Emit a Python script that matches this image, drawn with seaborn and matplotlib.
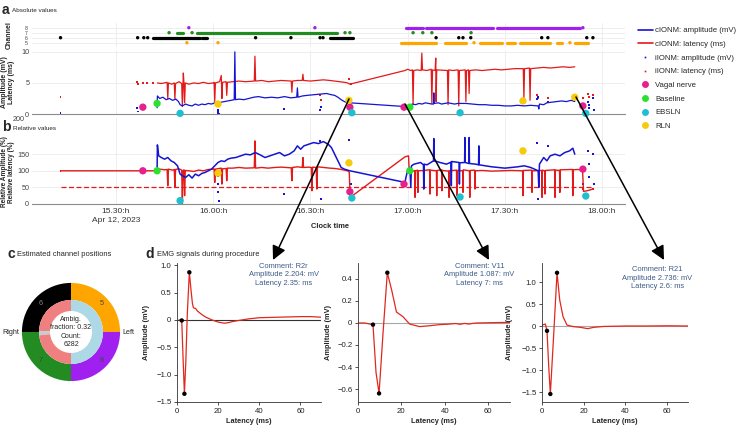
import numpy as np
import pandas as pd
import seaborn as sns
import matplotlib.pyplot as plt
from matplotlib.lines import Line2D
from matplotlib.patches import FancyArrowPatch
import matplotlib.dates as mdates

W, H = 737, 425
BASE = pd.Timestamp('2023-04-12 15:00')
nan = np.nan
BLUE = '#1414d2'
RED = '#e31a1a'

# ---- panel a: absolute cIONM traces (minutes after 15:00) ----
amp_abs_t = [42.7, 42.8, 43.5, 44.5, 45.5, 46.5, 47.5, 48.5, 49.3, 49.8,
             50.5, 51.5, 52.5, 53.5, 54.5, 55.5, 56.5, 57.5, 58.5, 59.5,
             60.5, 61.5, 62.5, 63.5, 64.5, 65.5, 66.5, 66.7, 66.9, 68.0,
             69.5, 71.0, 72.5, 74.0, 76.0, 78.0, 80.0, 82.0, 84.0, 85.8,
             86.0, 86.2, 87.5, 89.0, 91.0, 93.0, 95.0, 96.5, 97.5, 98.5,
             99.5, 100.5, 101.5, 102.2,
             119.2, 119.8, 120.7, 121.5, 122.5, 123.5, 124.5, 125.5, 126.5, 127.5,
             128.0, 128.1, 128.2, 129.5, 130.5, 131.5, 132.5, 133.5, 134.5, 135.5,
             138.0, 140.0, 142.0, 144.0, 146.0, 148.0, 150.0, 152.0, 154.0, 156.0,
             158.0, 160.3, 160.5, 160.7, 162.0, 163.0, 164.5, 166.0, 167.5, 169.0,
             170.5, 171.6]
amp_abs = [1.0, 2.9, 2.5, 2.7, 2.3, 2.5, 2.2, 2.4, 2.0, 1.5,
           1.3, 1.6, 1.4, 1.3, 1.6, 1.4, 1.6, 1.5, 1.7, 1.6,
           1.8, 1.7, 1.9, 2.0, 2.1, 2.2, 2.3, 10.0, 2.3, 2.4,
           2.3, 2.5, 2.7, 2.8, 2.6, 2.7, 2.6, 2.8, 2.6, 2.7,
           4.2, 2.7, 2.9, 3.0, 3.1, 3.2, 3.3, 3.1, 3.0, 2.7,
           2.3, 2.0, 1.8, 1.8,
           1.2, 1.3, 1.4, 1.6, 1.5, 1.7, 1.6, 1.8, 1.7, 1.6,
           1.6, 3.4, 1.7, 1.8, 1.6, 1.7, 1.8, 1.7, 1.6, 1.7,
           1.7, 1.6, 1.5, 1.5, 1.4, 1.4, 1.3, 1.3, 1.4, 1.3,
           1.4, 1.3, 0.8, 1.6, 1.5, 1.8, 1.9, 2.0, 2.1, 2.0,
           2.2, 2.0]

lat_abs_t = [42.8, 44.0, 45.8, 46.0, 46.2, 47.2, 48.0, 48.2, 48.4, 49.5,
             50.3, 50.5, 50.7, 50.8, 51.0, 51.2, 51.4, 52.5, 54.0, 55.5,
             57.0, 58.5, 60.0, 60.3, 60.5, 60.7, 62.0, 62.5, 62.7, 62.9,
             64.0, 64.2, 64.4, 66.0, 68.0, 70.0, 72.7, 72.9, 73.1, 75.0,
             77.0, 79.0, 81.0, 84.1, 84.3, 84.5, 86.0, 87.5, 87.7, 87.9,
             90.0, 92.0, 94.0, 96.0, 97.5, 99.0, 100.5, 101.5, 102.2,
             119.2, 120.0, 121.0, 121.5, 121.7, 121.9, 123.0, 124.2, 124.4, 124.6,
             126.0, 127.3, 127.5, 127.7, 128.5, 128.7, 128.8, 129.0, 132.3, 132.5,
             132.7, 134.0, 135.6, 135.8, 136.0, 137.8, 138.0, 138.2, 138.8, 139.0,
             139.2, 141.0, 143.0, 145.0, 147.0, 149.0, 151.0, 153.0, 155.7, 155.9,
             156.1, 157.6, 157.8, 158.0, 160.0, 162.0, 164.0, 166.0, 168.0, 170.0,
             171.6]
lat_abs = [5.0, 4.9, 5.1, 2.5, 5.0, 4.8, 5.0, 2.4, 4.9, 5.2,
           4.9, 1.2, 5.0, 6.6, 4.9, 1.8, 5.0, 4.8, 5.0, 4.9,
           5.1, 4.9, 5.0, 5.1, 2.0, 5.0, 5.2, 6.2, 2.5, 5.1,
           5.2, 3.0, 5.1, 5.2, 5.3, 5.2, 5.3, 9.3, 5.3, 5.4,
           5.2, 5.3, 5.4, 5.3, 3.5, 5.3, 5.4, 5.4, 6.4, 5.4,
           5.3, 5.4, 5.5, 5.4, 5.3, 5.2, 5.1, 5.0, 4.8,
           7.0, 7.2, 7.0, 7.1, 1.5, 7.0, 7.1, 7.0, 9.8, 7.1,
           7.0, 7.2, 1.7, 7.1, 7.0, 9.0, 2.0, 7.1, 7.0, 1.5,
           7.1, 7.0, 7.1, 1.3, 7.0, 7.1, 2.0, 7.0, 7.1, 3.3,
           7.0, 7.1, 7.0, 7.1, 7.2, 7.1, 7.2, 7.3, 7.3, 2.5,
           7.3, 7.4, 2.2, 7.3, 7.4, 7.5, 7.4, 7.5, 7.6, 7.5,
           7.6]

# ---- panel b: relative traces (%) ----
amp_rel_t = [42.7, 42.8, 43.2, 44.0, 45.0, 46.0, 47.0, 48.0, 49.0, 49.8,
             50.5, 51.5, 52.5, 53.5, 54.5, 55.5, 56.5, 57.5, 58.5, 59.5,
             60.5, 61.5, 62.5, 63.5, 64.5, 65.5, 67.0, 68.5, 70.0, 71.5,
             73.0, 74.5, 76.0, 77.5, 79.0, 80.5, 82.0, 83.5, 85.0, 86.0,
             87.0, 88.0, 89.5, 91.0, 92.5, 94.0, 95.5, 96.5, 97.5, 98.5,
             99.5, 100.5, 101.5, 102.2,
             119.2, 119.5, 120.0, 120.7, 121.0, 121.2, 122.0, 124.0, 124.9, 125.0,
             125.1, 126.0, 128.0, 128.1, 128.2, 130.0, 132.0, 133.4, 133.5, 133.6,
             135.9, 136.0, 136.1, 137.6, 137.7, 137.8, 138.9, 139.0, 139.1, 141.0,
             141.9, 142.0, 142.1, 144.0, 146.0, 148.0, 150.0, 152.0, 154.0, 156.0,
             158.0, 160.3, 160.5, 160.7, 162.0, 163.0, 164.0, 165.5, 167.0, 168.5,
             170.0, 171.0, 171.6]
amp_rel = [100, 178, 145, 140, 135, 140, 130, 125, 115, 90,
           85, 80, 88, 78, 90, 85, 92, 95, 100, 105,
           115, 125, 130, 128, 135, 138, 140, 145, 150, 148,
           155, 148, 140, 145, 150, 155, 145, 150, 160, 175,
           165, 175, 180, 185, 182, 188, 180, 170, 150, 130,
           110, 105, 102, 100,
           65, 80, 100, 110, 50, 115, 120, 125, 118, 45,
           120, 118, 130, 197, 130, 125, 120, 126, 55, 128,
           125, 60, 124, 125, 200, 125, 122, 200, 122, 120,
           118, 175, 118, 115, 112, 110, 108, 110, 112, 115,
           110, 100, 50, 120, 140, 130, 145, 150, 145, 155,
           160, 168, 150]

lat_rel_t = [12.9, 42.7, 43.5, 45.0, 45.8, 46.0, 46.2, 47.5, 48.0, 48.2,
             48.4, 49.5, 50.3, 50.5, 50.7, 51.0, 51.2, 51.4, 52.5, 54.0,
             55.5, 57.0, 58.5, 60.0, 60.3, 60.5, 60.7, 62.0, 62.5, 62.7,
             62.9, 64.0, 64.2, 64.4, 66.0, 68.0, 70.0, 72.7, 72.9, 73.1,
             75.0, 77.0, 79.0, 81.0, 84.1, 84.3, 84.5, 86.0, 87.5, 87.7,
             87.9, 89.5, 90.3, 90.5, 90.7, 91.8, 92.0, 92.2, 94.0, 96.0,
             97.5, 99.0, 100.5, 101.5, 102.0, 102.3,
             119.2, 120.3, 120.5, 121.0, 122.0, 122.2, 122.3, 122.5, 123.1, 123.2,
             123.3, 125.0, 126.8, 126.9, 127.0, 128.9, 129.0, 129.1, 130.5, 130.6,
             130.7, 132.7, 132.8, 132.9, 135.1, 135.2, 135.3, 137.0, 137.1, 137.2,
             139.1, 139.2, 139.3, 140.7, 140.8, 140.9, 143.0, 146.0, 149.0, 152.0,
             155.5, 155.6, 155.7, 158.3, 158.4, 158.5, 161.4, 161.5, 161.6, 162.3,
             162.4, 162.5, 165.4, 165.5, 165.6, 166.9, 167.0, 167.1, 170.9, 171.0,
             171.1, 172.5, 174.0, 174.3, 175.5, 177.2]
lat_rel = [100, 100, 105, 103, 104, 55, 105, 102, 104, 50,
           104, 106, 102, 2, 100, 103, 25, 101, 100, 98,
           102, 100, 104, 105, 106, 65, 105, 107, 108, 60,
           106, 107, 70, 108, 108, 110, 108, 109, 190, 108,
           110, 108, 110, 111, 109, 70, 110, 112, 110, 140,
           110, 111, 110, 40, 111, 110, 45, 112, 110, 108,
           107, 105, 102, 100, 96, 20,
           142, 145, 100, 102, 99, 101, 20, 100, 102, 35,
           100, 101, 103, 30, 102, 100, 25, 101, 103, 40,
           101, 99, 20, 100, 102, 25, 101, 100, 35, 103,
           100, 20, 101, 102, 45, 100, 101, 99, 100, 101,
           100, 25, 101, 102, 35, 100, 101, 20, 102, 100,
           30, 101, 103, 20, 102, 101, 35, 103, 104, 25,
           103, 104, 102, 38, 40, 45]
threshold_pct = 50

# ---- iIONM single measurements ----
iionm_t = [12.9, 36.5, 36.7, 38.3, 39.6, 41.4, 61.4, 61.5, 61.6, 61.7, 82.0, 93.0,
           93.2, 102.0, 102.4, 160.0, 160.3, 163.3, 174.0, 175.7, 175.9, 176.1, 177.2, 177.4]
iionm_amp = [0.1, 1.0, 0.4, nan, nan, nan, 0.6, 0.4, 0.2, 0.05, 0.8, 0.6,
             1.2, 2.2, 1.0, 2.4, 2.8, 2.0, 1.2, 2.0, 1.5, 1.0, 2.5, 0.6]
iionm_lat = [2.7, 5.1, 4.9, 5.0, 5.0, 5.0, nan, nan, nan, nan, nan, 3.0,
             2.2, 5.6, 4.8, 3.0, 2.5, 2.6, 2.5, 3.2, 2.8, nan, 3.0, nan]
iionm_amp_rel = [nan, nan, nan, nan, nan, nan, 85, 60, 35, 10, 30, 190,
                 15, 194, 60, 185, 15, 175, 60, 160, 120, 80, 150, 60]
iionm_lat_rel = [100, nan, nan, nan, nan, nan, nan, nan, nan, nan, nan, nan,
                 nan, nan, nan, nan, nan, nan, 45, nan, nan, nan, 45, nan]

# ---- stimulation events ----
event_t = [38.3, 102.2, 118.9, 174.1, 42.7, 120.7, 49.8, 102.8, 136.2, 175.0, 61.5, 101.9, 155.6, 171.6]
event_kind = ['Vagal nerve', 'Vagal nerve', 'Vagal nerve', 'Vagal nerve', 'Baseline', 'Baseline',
              'EBSLN', 'EBSLN', 'EBSLN', 'EBSLN', 'RLN', 'RLN', 'RLN', 'RLN']
event_abs = [1.1, 1.1, 1.1, 1.3, 1.7, 1.1, 0.1, 0.2, 0.2, 0.1, 1.6, 2.2, 2.1, 2.7]
event_rel = [100, 37, 60, 105, 100, 100, 10, 18, 21, 24, 93, 124, 160, nan]
event_colors = {'Vagal nerve': '#e6208c', 'Baseline': '#2ee02e', 'EBSLN': '#1fbfcf', 'RLN': '#f6cb0a'}

# ---- channel strip ----
ch_run_start = [41.4, 56.5, 96.0, 55.0, 48.8, 119.5, 125.7, 147.6, 118.0, 131.5, 142.3, 150.7, 154.7, 166.1, 171.6]
ch_run_end = [55.9, 58.1, 103.1, 98.2, 50.7, 124.7, 146.3, 173.2, 128.8, 138.0, 149.1, 153.1, 163.9, 167.6, 175.7]
ch_run_chan = [6, 6, 6, 7, 7, 8, 8, 8, 5, 5, 5, 5, 5, 5, 5]
ch_dot_t = [12.9, 36.7, 38.6, 39.8, 73.1, 84.0, 93.0, 93.9, 128.8, 135.8, 137.1, 139.5, 161.4, 163.3, 175.3, 177.2,
            46.4, 53.5, 100.7, 102.2, 121.7, 124.7, 127.5, 139.6,
            52.5, 91.4, 174.1,
            51.9, 61.5, 140.5, 170.1]
ch_dot_chan = [6, 6, 6, 6, 6, 6, 6, 6, 6, 6, 6, 6, 6, 6, 6, 6,
               7, 7, 7, 7, 7, 7, 7, 7,
               8, 8, 8,
               5, 5, 5, 5]
chan_colors = {5: '#ffa500', 6: '#000000', 7: '#228b22', 8: '#a020f0'}

tick_min = [30, 60, 90, 120, 150, 180]
tick_labels = ['15.30:h\nApr 12, 2023', '16.00:h', '16.30:h', '17.00:h', '17.30:h', '18.00:h']

# ---- panel c: donut ----
outer_labels = ['5', '8', '7', '6']
outer_sizes = [1, 1, 1, 1]
inner_sizes = [88, 8, 84, 180]
inner_colors = ['#f08080', '#c5cdd2', '#f08080', '#add8e6']

# ---- panel d: EMG waveforms ----
emg1_lat = [1.0, 2.3, 3.0, 3.6, 4.3, 5.0, 6.0, 6.8, 7.5, 8.0, 9.0, 10, 12, 14, 17, 20, 23, 25, 27, 30,
            35, 40, 45, 50, 55, 60, 65, 70]
emg1_amp = [0.0, -0.01, -0.75, -1.35, -0.75, 0.1, 0.87, 0.55, 0.3, 0.22, 0.21, 0.16, 0.1, 0.05, 0.0,
            -0.04, -0.06, -0.05, -0.03, -0.01, 0.02, 0.04, 0.045, 0.05, 0.055, 0.06, 0.06, 0.05]
emg1_pk_lat = [2.3, 3.6, 6.0]
emg1_pk_amp = [-0.01, -1.35, 0.87]
emg2_lat = [0.5, 3, 6.9, 8.3, 9.7, 11.5, 13.5, 15.5, 17.7, 20.7, 23.8, 28.4, 33, 37.6, 42, 45, 47, 49,
            51, 53, 55, 60, 65, 70]
emg2_amp = [0.0, 0.0, -0.015, -0.45, -0.64, -0.1, 0.457, 0.3, 0.10, 0.057, -0.01, -0.033, -0.025,
            -0.015, -0.01, -0.005, -0.012, -0.004, -0.01, -0.003, 0.0, 0.002, 0.004, 0.005]
emg2_pk_lat = [6.9, 9.7, 13.5]
emg2_pk_amp = [-0.015, -0.64, 0.457]
emg3_lat = [0, 1.6, 2.4, 3.2, 4.0, 5.6, 7.2, 8.5, 10.1, 12.0, 15.2, 18.4, 21.9, 24.8, 29.6, 35, 40, 50, 60, 70]
emg3_amp = [0.02, 0.045, -0.11, -0.9, -1.545, -0.2, 1.21, 0.59, 0.21, 0.02, -0.015, -0.03, -0.06, -0.03,
            -0.01, -0.005, 0.0, 0.0, 0.005, 0.0]
emg3_pk_lat = [2.4, 4.0, 7.2]
emg3_pk_amp = [-0.11, -1.545, 1.21]
emg_notes = ['Comment: R2r\nAmplitude 2.204: mV\nLatency 2.35: ms',
             'Comment: V11\nAmplitude 1.087: mV\nLatency 7: ms',
             'Comment: R21\nAmplitude 2.736: mV\nLatency 2.6: ms']


def to_time(mins):
    return pd.Series(BASE + pd.to_timedelta(np.asarray(mins, dtype=float), unit='min'))


def to_num(mins):
    return mdates.date2num(to_time(mins).dt.to_pydatetime())


sns.set_theme(style='white')
plt.rcParams['font.family'] = ['Liberation Sans', 'DejaVu Sans']

fig = plt.figure(figsize=(W / 100, H / 100), dpi=100)


def box(l, t, r, b):
    return fig.add_axes([l / W, 1 - b / H, (r - l) / W, (b - t) / H])


def timeline_style(ax):
    ax.set_xlim(to_time([4.1, 187.1]))
    ax.set_xticks(to_time(tick_min))
    ax.grid(True, color='#ebebeb', lw=0.6)
    ax.set_axisbelow(True)
    for s in ['top', 'right', 'left']:
        ax.spines[s].set_visible(False)
    ax.spines['bottom'].set_color('#8c8c8c')
    ax.spines['bottom'].set_linewidth(0.8)
    ax.tick_params(axis='both', length=0, pad=2, labelsize=5.2, labelcolor='#444444')
    ax.set_xlabel('')


# ---- channel strip ----
ax_ch = box(32, 23, 625, 47)
sns.scatterplot(x=to_time(ch_dot_t), y=ch_dot_chan, hue=ch_dot_chan, palette=chan_colors,
                s=6, edgecolor='none', legend=False, ax=ax_ch)
for a, b, c in zip(ch_run_start, ch_run_end, ch_run_chan):
    ax_ch.hlines(c, to_num([a])[0], to_num([b])[0], color=chan_colors[c], lw=2.3, capstyle='round')
timeline_style(ax_ch)
ax_ch.spines['bottom'].set_visible(False)
ax_ch.set_ylim(4.14, 8.94)
ax_ch.set_yticks([5, 6, 7, 8])
ax_ch.tick_params(axis='y', labelsize=3.8, pad=3)
ax_ch.set_xticklabels([])
ax_ch.set_ylabel('Channel', fontsize=5, fontweight='bold')
ax_ch.yaxis.set_label_coords(-0.032, 0.5)

# ---- panel a ----
ax_a = box(32, 50, 625, 114)
sns.lineplot(x=to_time(lat_abs_t), y=lat_abs, color=RED, lw=0.9, estimator=None, sort=False, ax=ax_a)
sns.lineplot(x=to_time(amp_abs_t), y=amp_abs, color=BLUE, lw=0.9, estimator=None, sort=False, ax=ax_a)
sns.scatterplot(x=to_time(iionm_t), y=iionm_lat, color=RED, s=2, marker='s', edgecolor='none', ax=ax_a)
sns.scatterplot(x=to_time(iionm_t), y=iionm_amp, color=BLUE, s=2, marker='s', edgecolor='none', ax=ax_a)
sns.scatterplot(x=to_time(event_t), y=event_abs, hue=event_kind, palette=event_colors, s=28,
                edgecolor='none', legend=False, ax=ax_a, zorder=5, clip_on=False)
timeline_style(ax_a)
ax_a.set_ylim(0, 10.3)
ax_a.set_yticks([0, 5, 10])
ax_a.set_xticklabels([])
ax_a.set_ylabel('Amplitude (mV)\nLatency (ms)', fontsize=5, fontweight='bold', linespacing=1.1)
ax_a.yaxis.set_label_coords(-0.028, 0.5)

# ---- panel b ----
ax_b = box(32, 117, 625, 204)
ax_b.hlines(threshold_pct, to_num([12.9])[0], to_num([177.2])[0], color=RED, lw=0.9, linestyles=(0, (4, 2)))
sns.lineplot(x=to_time(lat_rel_t), y=lat_rel, color=RED, lw=1.0, estimator=None, sort=False, ax=ax_b)
sns.lineplot(x=to_time(amp_rel_t), y=amp_rel, color=BLUE, lw=1.1, estimator=None, sort=False, ax=ax_b)
sns.scatterplot(x=to_time(iionm_t), y=iionm_lat_rel, color=RED, s=2, marker='s', edgecolor='none', ax=ax_b)
sns.scatterplot(x=to_time(iionm_t), y=iionm_amp_rel, color=BLUE, s=2, marker='s', edgecolor='none', ax=ax_b)
sns.scatterplot(x=to_time(event_t), y=event_rel, hue=event_kind, palette=event_colors, s=28,
                edgecolor='none', legend=False, ax=ax_b, zorder=5, clip_on=False)
timeline_style(ax_b)
ax_b.set_ylim(0, 262)
ax_b.set_yticks([0, 50, 100, 150])
ax_b.set_xticklabels(tick_labels, fontsize=6, color='#333333', linespacing=1.4)
ax_b.tick_params(axis='x', pad=3)
ax_b.text(-0.012, 0.97, '200', transform=ax_b.transAxes, ha='right', va='center', fontsize=5.2, color='#444444')
ax_b.set_ylabel('Relative Amplitude (%)\nRelative latency (%)', fontsize=4.7, fontweight='bold', linespacing=1.1)
ax_b.yaxis.set_label_coords(-0.028, 0.37)
fig.text(330 / W, 1 - 227 / H, 'Clock time', ha='center', va='center', fontsize=5.4, fontweight='bold')

# ---- legend ----
handles = [Line2D([], [], color=BLUE, lw=1.2), Line2D([], [], color=RED, lw=1.2),
           Line2D([], [], color=BLUE, ls='none', marker='s', ms=1.2, mew=0),
           Line2D([], [], color=RED, ls='none', marker='s', ms=1.2, mew=0)]
labels = ['cIONM: amplitude (mV)', 'cIONM: latency (ms)', 'iIONM: amplitude (mV)', 'iIONM: latency (ms)']
for k, c in event_colors.items():
    handles.append(Line2D([], [], color=c, ls='none', marker='o', ms=5, mew=0))
    labels.append(k)
fig.legend(handles, labels, loc='upper left', bbox_to_anchor=(638 / W, 1 - 27 / H), frameon=False,
           fontsize=5.6, handlelength=1.9, handletextpad=0.3, labelspacing=0.8, borderaxespad=0, borderpad=0)

# ---- panel labels ----
fig.text(2 / W, 1 - 10 / H, 'a', fontsize=10, fontweight='bold', va='center')
fig.text(12 / W, 1 - 10 / H, 'Absolute values', fontsize=4.6, va='center')
fig.text(2 / W, 1 - 127 / H, 'b', fontsize=10, fontweight='bold', va='center')
fig.text(13 / W, 1 - 128 / H, 'Relative values', fontsize=4.6, va='center')
fig.text(7 / W, 1 - 254 / H, 'c', fontsize=10, fontweight='bold', va='center')
fig.text(17 / W, 1 - 255 / H, 'Estimated channel positions', fontsize=5.4, va='center')
fig.text(145 / W, 1 - 254 / H, 'd', fontsize=10, fontweight='bold', va='center')
fig.text(157 / W, 1 - 255 / H, 'EMG signals during procedure', fontsize=5.4, va='center')

# ---- panel c ----
ax_c = box(18, 279, 124, 385)
_, outer_txt = ax_c.pie(outer_sizes, radius=1.0, colors=[chan_colors[int(l)] for l in outer_labels],
                        startangle=90, counterclock=False, labels=outer_labels, labeldistance=0.82,
                        wedgeprops=dict(width=0.347, linewidth=0), textprops=dict(fontsize=5.2, color='#444444'))
for t in outer_txt:
    if t.get_text() == '6':
        t.set_color('#8a8a8a')
ax_c.pie(inner_sizes, radius=0.653, colors=inner_colors, startangle=90, counterclock=True,
         wedgeprops=dict(width=0.225, linewidth=0))
ax_c.text(0, 0, 'Ambig.\nfraction: 0.32\nCount:\n6282', ha='center', va='center', fontsize=5, linespacing=1.3)
ax_c.text(-1.23, 0, 'Right', ha='center', va='center', fontsize=5.2, clip_on=False)
ax_c.text(1.16, 0, 'Left', ha='center', va='center', fontsize=5.2, clip_on=False)
ax_c.set_xlim(-1.08, 1.08)
ax_c.set_ylim(-1.08, 1.08)
ax_c.set_aspect('equal')
ax_c.axis('off')

# ---- panel d ----
emg = [(emg1_lat, emg1_amp, emg1_pk_lat, emg1_pk_amp), (emg2_lat, emg2_amp, emg2_pk_lat, emg2_pk_amp),
       (emg3_lat, emg3_amp, emg3_pk_lat, emg3_pk_amp)]
boxes = [(177, 263, 321, 402), (358, 263, 510, 402), (542, 263, 688, 402)]
ylims = [(-1.5, 1.04), (-0.718, 0.545), (-1.727, 1.432)]
yticks = [[-1.5, -1.0, -0.5, 0, 0.5, 1.0], [-0.6, -0.4, -0.2, 0, 0.2, 0.4], [-1.5, -1.0, -0.5, 0, 0.5, 1.0]]
zero_col = ['#333333', '#a8a8a8', '#a8a8a8']
note_xy = [(0.74, 0.914), (0.80, 0.914), (0.79, 0.892)]
ylab_x = [-0.185, -0.17, -0.2]
for i, (lat, amp, plat, pamp) in enumerate(emg):
    ax = box(*boxes[i])
    ax.axhline(0, color=zero_col[i], lw=0.8, zorder=1)
    sns.lineplot(x=lat, y=amp, color='#e0281e', lw=0.9, estimator=None, sort=False, ax=ax, zorder=2)
    sns.scatterplot(x=plat, y=pamp, color='black', s=10, edgecolor='none', ax=ax, zorder=3)
    ax.set_xlim(0, 70)
    ax.set_ylim(*ylims[i])
    ax.set_xticks([0, 20, 40, 60])
    ax.set_yticks(yticks[i])
    ax.set_yticklabels(['0' if v == 0 else f'{v:.1f}'.replace('-', '\u2212') for v in yticks[i]])
    for s in ['top', 'right']:
        ax.spines[s].set_visible(False)
    for s in ['left', 'bottom']:
        ax.spines[s].set_color('#333333')
        ax.spines[s].set_linewidth(0.6)
    ax.tick_params(axis='both', length=2.5, width=0.6, pad=1.5, labelsize=5.6, labelcolor='#222222',
                   left=True, bottom=True, color='#333333')
    ax.set_xlabel('Latency (ms)', fontsize=5.3, fontweight='bold')
    ax.xaxis.set_label_coords(0.5, -0.112)
    ax.set_ylabel('Amplitude (mV)', fontsize=5.3, fontweight='bold')
    ax.yaxis.set_label_coords(ylab_x[i], 0.5)
    ax.text(*note_xy[i], emg_notes[i], transform=ax.transAxes, ha='center', va='center',
            fontsize=5.4, color='#3b5a88', linespacing=1.25)

# ---- arrows linking events to waveforms ----
arrows = [((349, 99), (273, 260)), ((405, 104), (489, 260)), ((576, 97), (664, 260))]
for (x0, y0), (x1, y1) in arrows:
    fig.add_artist(FancyArrowPatch((x0 / W, 1 - y0 / H), (x1 / W, 1 - y1 / H), transform=fig.transFigure,
                                   arrowstyle='-|>,head_length=0.6,head_width=0.3', mutation_scale=14,
                                   color='black', lw=1.1, shrinkA=0, shrinkB=0, zorder=10))

fig.savefig('out.png', dpi=100)
